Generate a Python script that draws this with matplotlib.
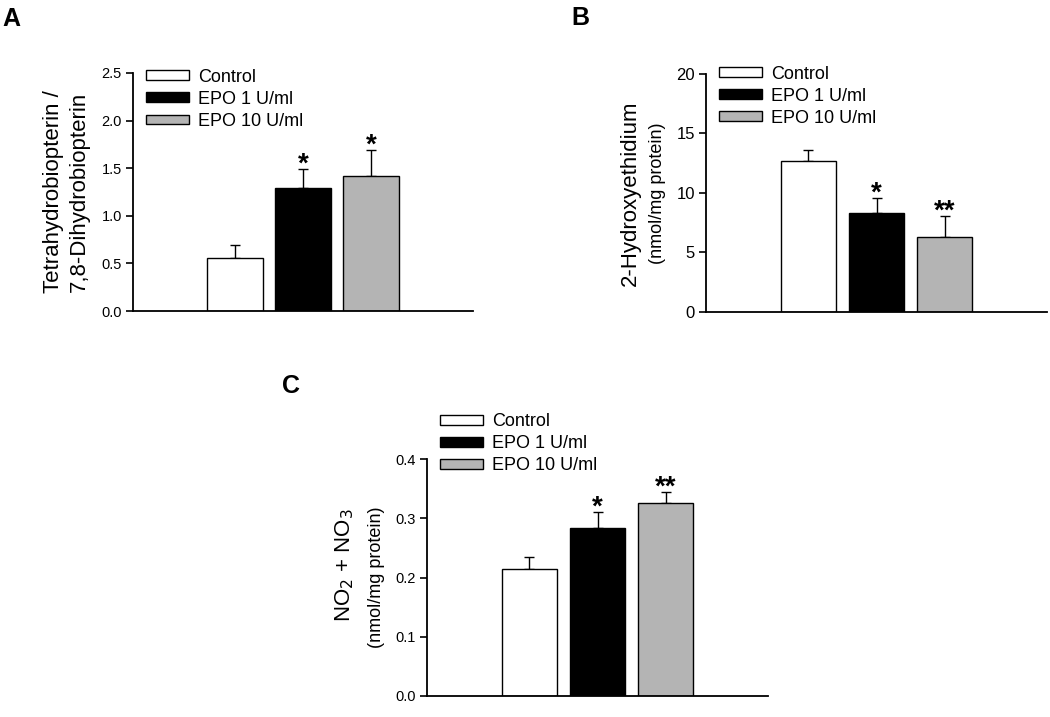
""" EPO effect on BH4/BH2 ratio, superoxide and NOx """

from matplotlib import pyplot as plt
import numpy as np

plt.rcParams['font.family'] = ['Liberation Sans', 'DejaVu Sans']

groups = ["Control", "EPO 1 U/ml", "EPO 10 U/ml"]
colors = ["white", "black", "#b4b4b4"]

bh4_ratio = [0.56, 1.29, 1.42]
bh4_err = [0.13, 0.20, 0.27]
bh4_stars = ["", "*", "*"]

hydroxy = [12.65, 8.3, 6.3]
hydroxy_err = [0.92, 1.25, 1.8]
hydroxy_stars = ["", "*", "**"]

nox = [0.215, 0.284, 0.326]
nox_err = [0.019, 0.026, 0.019]
nox_stars = ["", "*", "**"]


def draw_panel(ax, vals, errs, stars, ymax, step, tick_size, fmt, leg_y):
    """ One bar panel with error bars and stars """
    x = np.arange(len(vals))
    ax.bar(x, vals, width=0.81, color=colors, edgecolor="black",
           linewidth=1.0, label=groups, zorder=2)
    ax.errorbar(x, vals, yerr=[np.zeros(len(errs)), errs], fmt="none",
                ecolor="black", elinewidth=1.0, capsize=3.6, capthick=1.0,
                zorder=1)
    for xi, v, e, s in zip(x, vals, errs, stars):
        if s:
            ax.annotate(s, (xi, v + e), xytext=(0, -2), textcoords="offset points",
                        ha="center", va="baseline", fontsize=20,
                        fontweight="bold")
    ax.set_xlim(-1.5, 3.5)
    ax.set_ylim(0, ymax)
    ticks = np.arange(0, ymax + step / 2, step)
    ax.set_yticks(ticks)
    ax.set_yticklabels([fmt.format(t) for t in ticks], fontsize=tick_size)
    ax.set_xticks([])
    for side in ["top", "right"]:
        ax.spines[side].set_visible(False)
    for side in ["left", "bottom"]:
        ax.spines[side].set_linewidth(1.3)
    ax.tick_params(axis="y", direction="out", length=5, width=1.2, pad=3)
    leg = ax.legend(loc="upper left", bbox_to_anchor=(0.038, leg_y),
                    frameon=False, fontsize=13, handlelength=2.4,
                    handleheight=0.45, handletextpad=0.5, labelspacing=0.28,
                    borderaxespad=0, borderpad=0)
    return leg


fig = plt.figure(figsize=(10.5, 7.17), dpi=100)

axA = fig.add_axes([0.1267, 0.5662, 0.3238, 0.332])
draw_panel(axA, bh4_ratio, bh4_err, bh4_stars, 2.5, 0.5, 10.5, "{:.1f}", 1.018)
axA.text(-0.235, 0.5, "Tetrahydrobiopterin /", transform=axA.transAxes,
         rotation=90, ha="center", va="center", fontsize=16)
axA.text(-0.159, 0.5, "7,8-Dihydrobiopterin", transform=axA.transAxes,
         rotation=90, ha="center", va="center", fontsize=16)

axB = fig.add_axes([0.6724, 0.5649, 0.3248, 0.332])
draw_panel(axB, hydroxy, hydroxy_err, hydroxy_stars, 20, 5, 12, "{:.0f}", 1.035)
axB.text(-0.223, 0.5, "2-Hydroxyethidium", transform=axB.transAxes,
         rotation=90, ha="center", va="center", fontsize=16)
axB.text(-0.141, 0.5, "(nmol/mg protein)", transform=axB.transAxes,
         rotation=90, ha="center", va="center", fontsize=13)

axC = fig.add_axes([0.4067, 0.0293, 0.3248, 0.3305])
draw_panel(axC, nox, nox_err, nox_stars, 0.4, 0.1, 10.5, "{:.1f}", 1.193)
axC.text(-0.240, 0.55, "NO$_2$ + NO$_3$", transform=axC.transAxes,
         rotation=90, ha="center", va="center", fontsize=16)
axC.text(-0.147, 0.5, "(nmol/mg protein)", transform=axC.transAxes,
         rotation=90, ha="center", va="center", fontsize=13)

fig.text(0.002, 0.9735, "A", fontsize=18, fontweight="bold", va="center")
fig.text(0.5445, 0.9745, "B", fontsize=18, fontweight="bold", va="center")
fig.text(0.2686, 0.4617, "C", fontsize=18, fontweight="bold", va="center")

fig.savefig("out.png", dpi=100)
